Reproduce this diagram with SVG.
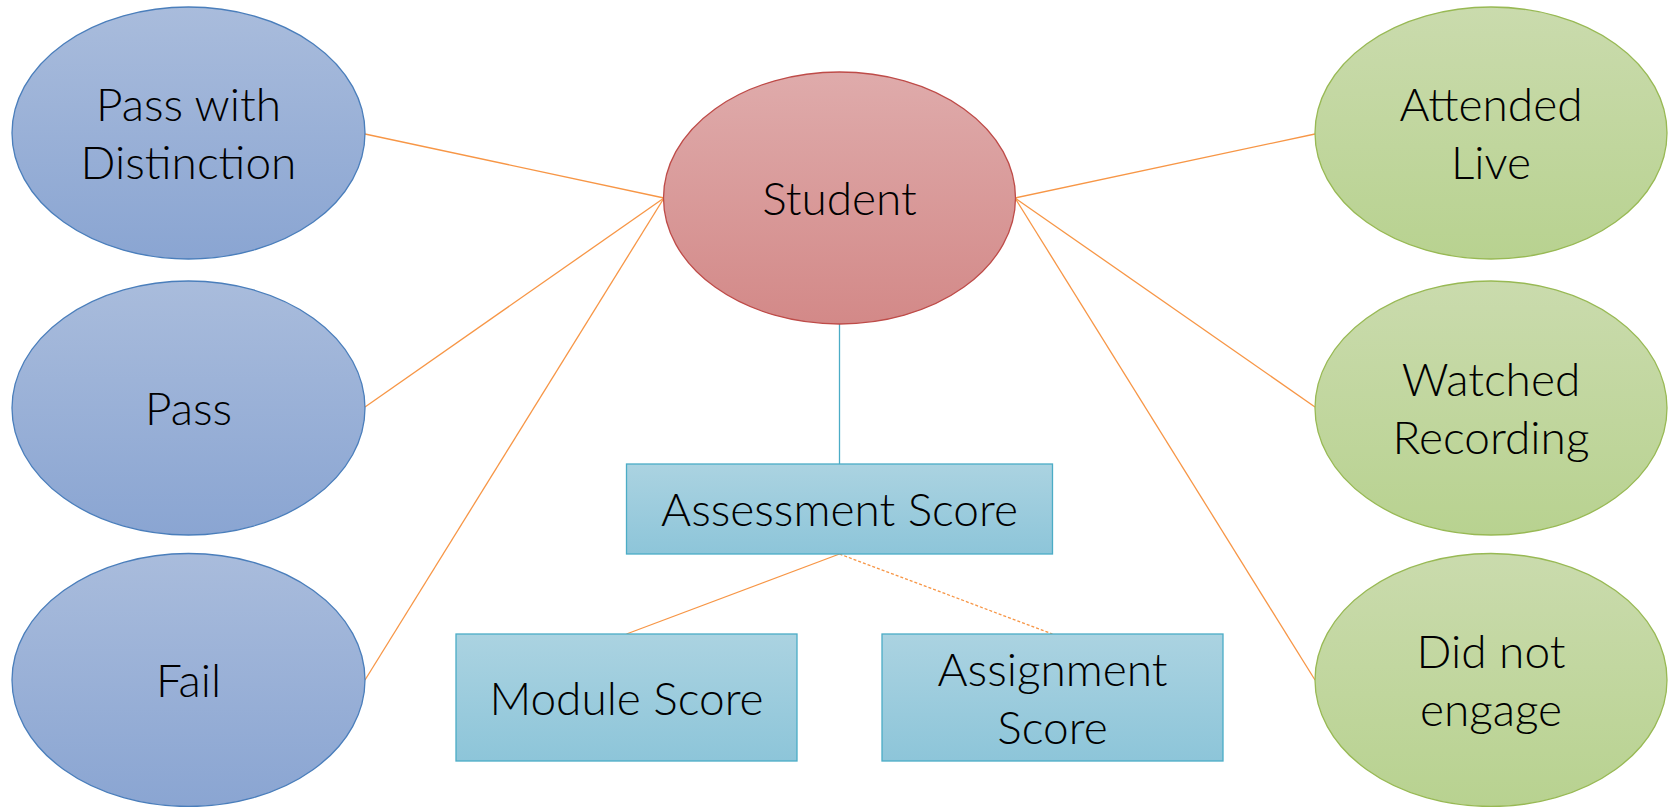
<svg xmlns="http://www.w3.org/2000/svg" width="1679" height="807" viewBox="0 0 1679 807">
  <defs>
    <linearGradient id="gBlue" x1="0" y1="0" x2="0" y2="1">
      <stop offset="0" stop-color="#a9bcdc"/>
      <stop offset="1" stop-color="#8aa5d2"/>
    </linearGradient>
    <linearGradient id="gRed" x1="0" y1="0" x2="0" y2="1">
      <stop offset="0" stop-color="#dfabab"/>
      <stop offset="1" stop-color="#d38988"/>
    </linearGradient>
    <linearGradient id="gGreen" x1="0" y1="0" x2="0" y2="1">
      <stop offset="0" stop-color="#cadbad"/>
      <stop offset="1" stop-color="#b8d290"/>
    </linearGradient>
    <linearGradient id="gCyan" x1="0" y1="0" x2="0" y2="1">
      <stop offset="0" stop-color="#abd3e1"/>
      <stop offset="1" stop-color="#8dc5d9"/>
    </linearGradient>
  </defs>
  <style>
    .lbl { font-family: Lato, "Open Sans", "Liberation Sans", sans-serif; font-weight: 300; font-size: 46px; fill: #000; text-anchor: middle; }
    .blue { fill: url(#gBlue); stroke: #4a7ebb; stroke-width: 1.3; }
    .red { fill: url(#gRed); stroke: #be4b48; stroke-width: 1.3; }
    .green { fill: url(#gGreen); stroke: #98b954; stroke-width: 1.3; }
    .box { fill: url(#gCyan); stroke: #4bacc6; stroke-width: 1.3; }
    .link { stroke: #f79646; stroke-width: 1.3; fill: none; }
    .stem { stroke: #4bacc6; stroke-width: 1.3; fill: none; }
    .dash { stroke-dasharray: 3 2; }
  </style>

  <g id="connectors">
    <line class="link" x1="664" y1="198" x2="365" y2="134"/>
    <line class="link" x1="664" y1="198" x2="365" y2="407"/>
    <line class="link" x1="664" y1="198" x2="365" y2="680"/>
    <line class="link" x1="1015" y1="198" x2="1315" y2="134"/>
    <line class="link" x1="1015" y1="198" x2="1315" y2="407"/>
    <line class="link" x1="1015" y1="198" x2="1315" y2="680"/>
    <line class="stem" x1="839.5" y1="324" x2="839.5" y2="464"/>
    <line class="link" x1="839.5" y1="554" x2="626.5" y2="634"/>
    <line class="link dash" x1="839.5" y1="554" x2="1052.5" y2="634"/>
  </g>

  <g id="student">
    <ellipse class="red" cx="839.5" cy="198" rx="176" ry="126"/>
    <text class="lbl" x="839.5" y="215">Student</text>
  </g>

  <g id="pass-with-distinction">
    <ellipse class="blue" cx="188.5" cy="133" rx="176.5" ry="126"/>
    <text class="lbl" x="188.5" y="121">Pass with</text>
    <text class="lbl" x="188.5" y="179">Distinction</text>
  </g>

  <g id="pass">
    <ellipse class="blue" cx="188.5" cy="408" rx="176.5" ry="127"/>
    <text class="lbl" x="188.5" y="425">Pass</text>
  </g>

  <g id="fail">
    <ellipse class="blue" cx="188.5" cy="680" rx="176.5" ry="126.5"/>
    <text class="lbl" x="188.5" y="697">Fail</text>
  </g>

  <g id="attended-live">
    <ellipse class="green" cx="1491" cy="133" rx="176" ry="126"/>
    <text class="lbl" x="1491" y="121">Attended</text>
    <text class="lbl" x="1491" y="179">Live</text>
  </g>

  <g id="watched-recording">
    <ellipse class="green" cx="1491" cy="408" rx="176" ry="127"/>
    <text class="lbl" x="1491" y="396">Watched</text>
    <text class="lbl" x="1491" y="454">Recording</text>
  </g>

  <g id="did-not-engage">
    <ellipse class="green" cx="1491" cy="680" rx="176" ry="126.5"/>
    <text class="lbl" x="1491" y="668">Did not</text>
    <text class="lbl" x="1491" y="726">engage</text>
  </g>

  <g id="assessment-score">
    <rect class="box" x="626.5" y="464" width="426" height="90"/>
    <text class="lbl" x="839.5" y="526">Assessment Score</text>
  </g>

  <g id="module-score">
    <rect class="box" x="456" y="634" width="341" height="127"/>
    <text class="lbl" x="626.5" y="715">Module Score</text>
  </g>

  <g id="assignment-score">
    <rect class="box" x="882" y="634" width="341" height="127"/>
    <text class="lbl" x="1052.5" y="686">Assignment</text>
    <text class="lbl" x="1052.5" y="744">Score</text>
  </g>
</svg>
